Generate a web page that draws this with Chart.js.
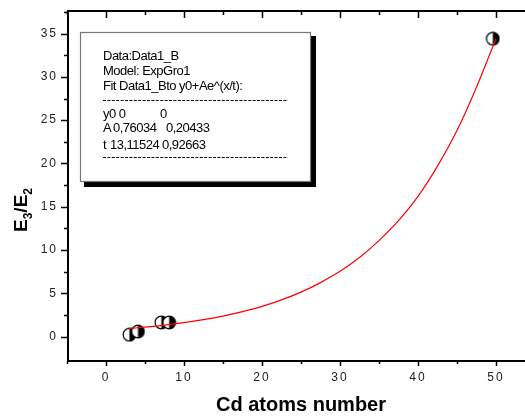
<!DOCTYPE html>
<html>
<head>
<meta charset="utf-8">
<script src="https://cdn.jsdelivr.net/npm/chart.js@4/dist/chart.umd.min.js"></script>
<style>
  html, body { margin: 0; padding: 0; background: #fff; overflow: hidden; }
  #wrap { width: 525px; height: 416px; position: relative; }
</style>
</head>
<body>
<div id="wrap"><canvas id="c"></canvas></div>
<script>
// measured points (Cd atoms number vs E3/E2)
const dataX = [3.0, 4.1, 7.1, 8.1, 49.6];
const dataY = [0.23, 0.6, 1.65, 1.65, 34.4];

// red fit curve
const fitX = [3.1, 5, 7.5, 10, 12.5, 15, 17.5, 20, 22.5, 25, 27.5, 30, 32.5, 35, 37.5, 40, 42.5, 45, 47.5, 50];
const fitY = [0.96, 1.11, 1.34, 1.63, 1.98, 2.39, 2.9, 3.5, 4.25, 5.15, 6.25, 7.55, 9.15, 11.1, 13.4, 16.2, 19.7, 23.8, 28.8, 34.4];

const xTicks = [0, 10, 20, 30, 40, 50];
const yTicks = [0, 5, 10, 15, 20, 25, 30, 35];

const boxLines = [
    ["Data:Data1_B"],
    ["Model: ExpGro1"],
    ["Fit Data1_Bto y0+Ae^(x/t):"],
    ["y0 0", "0"],
    ["A", "0,76034", "0,20433"],
    ["t", "13,11524", "0,92663"],
];

// half open / half black circle marker
function halfMarker() {
    const c = document.createElement("canvas");
    c.width = 15; c.height = 15;
    const g = c.getContext("2d");
    g.fillStyle = "#fff";
    g.beginPath(); g.arc(7.5, 7.5, 6.3, 0, Math.PI * 2); g.fill();
    g.fillStyle = "#000";
    g.beginPath(); g.arc(7.5, 7.5, 6.3, -Math.PI / 2, Math.PI / 2); g.closePath(); g.fill();
    g.strokeStyle = "#000"; g.lineWidth = 1.2;
    g.beginPath(); g.arc(7.5, 7.5, 6.3, 0, Math.PI * 2); g.stroke();
    return c;
}

const tickFont = { family: "Liberation Sans", size: 12 };

function noPad(s) {
    s.paddingTop = 0; s.paddingBottom = 0; s.paddingLeft = 0; s.paddingRight = 0;
}

const frame = {
    id: "frame",
    beforeDraw(chart) { chart.ctx.letterSpacing = "2px"; },
    afterDraw(chart) {
        const ctx = chart.ctx;
        const a = chart.chartArea;
        const W = chart.width;
        const xs = chart.scales.x, ys = chart.scales.y;
        ctx.save();
        ctx.letterSpacing = "0px";
        ctx.strokeStyle = "#000";
        ctx.lineWidth = 2;
        ctx.beginPath();
        ctx.moveTo(a.left, a.top); ctx.lineTo(W, a.top);
        ctx.moveTo(a.left, a.top - 1); ctx.lineTo(a.left, a.bottom + 1);
        ctx.moveTo(a.left - 1, a.bottom); ctx.lineTo(W, a.bottom);
        ctx.stroke();

        ctx.lineWidth = 1.5;
        ctx.beginPath();
        for (let v = -5; v <= 50; v += 5) {
            const px = Math.round(xs.getPixelForValue(v)) + 0.5;
            const major = v % 10 === 0;
            ctx.moveTo(px, a.bottom); ctx.lineTo(px, a.bottom + (major ? 5 : 3));
            ctx.moveTo(px, a.top); ctx.lineTo(px, a.top + (major ? 7 : 4));
        }
        for (let v = 0; v <= 37.5; v += 2.5) {
            const py = Math.round(ys.getPixelForValue(v)) + 0.5;
            const major = v % 5 === 0;
            ctx.moveTo(a.left, py); ctx.lineTo(a.left - (major ? 7 : 4), py);
        }
        ctx.stroke();

        // fit result box
        ctx.fillStyle = "#000";
        ctx.fillRect(84, 36, 232, 151);
        ctx.fillStyle = "#fff";
        ctx.fillRect(80, 32, 231, 150);
        ctx.strokeStyle = "#777";
        ctx.lineWidth = 1.2;
        ctx.strokeRect(80.5, 32.5, 230, 149);

        ctx.fillStyle = "#000";
        ctx.font = "13px 'Liberation Sans'";
        ctx.letterSpacing = "-0.5px";
        ctx.textAlign = "left";
        ctx.textBaseline = "alphabetic";
        ctx.fillText(boxLines[0][0], 103, 60);
        ctx.fillText(boxLines[1][0], 103, 75);
        ctx.fillText(boxLines[2][0], 103, 90);
        ctx.fillText(boxLines[3][0], 103, 118);
        ctx.fillText(boxLines[3][1], 160, 118);
        ctx.fillText(boxLines[4][0], 103, 132);
        ctx.fillText(boxLines[4][1], 113, 132);
        ctx.fillText(boxLines[4][2], 166, 132);
        ctx.fillText(boxLines[5][0], 103, 149);
        ctx.fillText(boxLines[5][1], 110, 149);
        ctx.fillText(boxLines[5][2], 162, 149);

        ctx.strokeStyle = "#000";
        ctx.lineWidth = 1;
        ctx.setLineDash([3, 1.4]);
        ctx.beginPath();
        ctx.moveTo(103, 100.5); ctx.lineTo(288, 100.5);
        ctx.moveTo(103, 157.5); ctx.lineTo(288, 157.5);
        ctx.stroke();
        ctx.setLineDash([]);

        // axis titles
        ctx.letterSpacing = "0px";
        ctx.font = "bold 20px 'Liberation Sans'";
        ctx.textAlign = "center";
        ctx.fillText("Cd atoms number", 301, 411);

        ctx.translate(27, 232);
        ctx.rotate(-Math.PI / 2);
        ctx.textAlign = "left";
        let x = 0;
        const big = "bold 19px 'Liberation Sans'", small = "bold 12px 'Liberation Sans'";
        const parts = [["E", big, 0], ["3", small, 5], ["/E", big, 0], ["2", small, 5]];
        parts.forEach(([t, f, dy]) => {
            ctx.font = f;
            ctx.fillText(t, x, dy);
            x += ctx.measureText(t).width;
        });
        ctx.restore();
    }
};

new Chart(document.getElementById("c"), {
    data: {
        datasets: [
            {
                type: "line",
                data: fitX.map((x, i) => ({ x, y: fitY[i] })),
                borderColor: "#ff0000",
                borderWidth: 1.2,
                pointRadius: 0,
                cubicInterpolationMode: "monotone",
                fill: false,
                order: 0,
            },
            {
                type: "scatter",
                data: dataX.map((x, i) => ({ x, y: dataY[i] })),
                pointStyle: halfMarker(),
                order: 1,
            },
        ],
    },
    options: {
        responsive: true,
        maintainAspectRatio: false,
        animation: false,
        layout: { padding: { top: 11, right: 0, left: 0, bottom: 0 } },
        plugins: { legend: { display: false }, tooltip: { enabled: false } },
        scales: {
            x: {
                type: "linear",
                min: -4.87,
                max: 53.08,
                grid: { display: false, drawTicks: false },
                border: { display: false },
                ticks: { font: tickFont, color: "#222", padding: 9, maxRotation: 0 },
                afterBuildTicks: (s) => { s.ticks = xTicks.map((v) => ({ value: v })); },
                afterFit: (s) => { s.height = 55; noPad(s); },
            },
            y: {
                type: "linear",
                min: -2.8,
                max: 37.6,
                grid: { display: false, drawTicks: false },
                border: { display: false },
                ticks: { font: tickFont, color: "#222", padding: 10 },
                afterBuildTicks: (s) => { s.ticks = yTicks.map((v) => ({ value: v })); },
                afterFit: (s) => { s.width = 68; noPad(s); },
            },
        },
    },
    plugins: [frame],
});
</script>
</body>
</html>
